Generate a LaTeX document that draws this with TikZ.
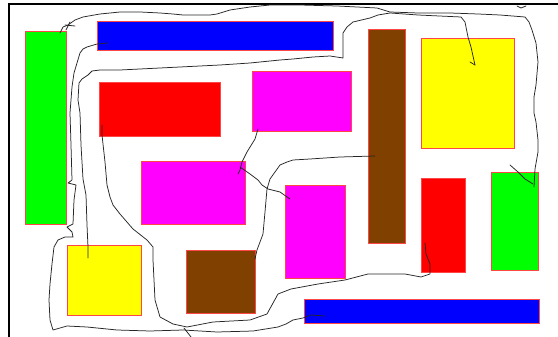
\documentclass[tikz,border=0pt]{standalone}
\begin{document}
\begin{tikzpicture}[x=1pt,y=-1pt,
  box/.style={draw={rgb,255:red,255;green,70;blue,70},line width=0.8pt},
  wire/.style={draw=black!85,line width=0.75pt,line join=round,line cap=round},
  frame/.style={draw=black,line width=2pt}]
\definecolor{cgreen}{RGB}{0,255,0}
\definecolor{cblue}{RGB}{0,0,255}
\definecolor{cred}{RGB}{255,0,0}
\definecolor{cmag}{RGB}{255,0,255}
\definecolor{cyel}{RGB}{255,255,0}
\definecolor{cbrown}{RGB}{128,64,0}
\useasboundingbox (0,0) rectangle (558,337);
\fill[white] (0,0) rectangle (558,337);
% frame
\draw[frame] (9.3,337) -- (9.3,4.3) -- (558,4.3);
% boxes
\filldraw[box,fill=cgreen] (25,31) rectangle (66,224);
\filldraw[box,fill=cblue] (97,21) rectangle (333,50);
\filldraw[box,fill=cred] (99,82) rectangle (220,136);
\filldraw[box,fill=cmag] (252,71) rectangle (351,131);
\filldraw[box,fill=cmag] (141,161) rectangle (245,224);
\filldraw[box,fill=cbrown] (368,29) rectangle (405,243);
\filldraw[box,fill=cyel] (421,38) rectangle (514,148);
\filldraw[box,fill=cmag] (285,185) rectangle (345,278);
\filldraw[box,fill=cred] (421,178) rectangle (465,272);
\filldraw[box,fill=cgreen] (491,172) rectangle (538,270);
\filldraw[box,fill=cyel] (67,245) rectangle (141,315);
\filldraw[box,fill=cbrown] (186,250) rectangle (255,313);
\filldraw[box,fill=cblue] (304,299) rectangle (539,323);
% green - green (top and right side)
\draw[wire] (60,33) -- (63,27) -- (68,25) -- (75,20) -- (83,17) -- (100,14) -- (120,12) -- (140,12)
  -- (160,13) -- (173,14) -- (183,15) -- (210,15) -- (217,14) -- (230,10) -- (250,7) -- (270,5)
  -- (300,5) -- (337,6) -- (377,8) -- (390,12) -- (418,13) -- (450,13) -- (478,14) -- (500,15)
  -- (525,17) -- (529,22) -- (532,30) -- (536,43) -- (538,62) -- (536,85) -- (534,97) -- (534,113)
  -- (536,122) -- (538,140) -- (538,152) -- (535,169) -- (534,187);
\draw[wire] (65,25) -- (75,26);
\draw[wire] (66,30) -- (70,22);
% short stroke into right green
\draw[wire] (510,165) -- (518,172) -- (525,179) -- (533,184);
% tick on top border
\draw[wire] (517,6) -- (521,8) -- (526,6);
% yellow - yellow
\draw[wire] (88,258) -- (88,247) -- (87,225) -- (86,195) -- (83,179) -- (81,145) -- (80,113)
  -- (78,100) -- (79,83) -- (82,79) -- (88,75) -- (92,71) -- (100,70) -- (120,70) -- (140,69)
  -- (160,68) -- (220,65) -- (250,63) -- (280,60) -- (293,59) -- (313,57) -- (330,56) -- (343,58)
  -- (343,33) -- (347,27) -- (353,22) -- (370,18) -- (378,15) -- (390,13) -- (418,15)
  -- (461,17) -- (465,22) -- (468,37) -- (471,47) -- (475,65);
\draw[wire] (470,62) -- (475,65);
% blue - blue
\draw[wire] (108,43) -- (97,44) -- (87,47) -- (83,49) -- (80,53) -- (77,63) -- (74,73) -- (72,87)
  -- (71,100) -- (70,113) -- (71,145) -- (72,180) -- (68,183) -- (76,185) -- (74,200) -- (73,224)
  -- (67,227) -- (72,232) -- (73,237) -- (65,237) -- (58,240) -- (54,247) -- (52,264) -- (50,284)
  -- (49,300) -- (50,320) -- (53,330) -- (67,326) -- (87,327) -- (117,330) -- (150,331) -- (183,330)
  -- (217,332) -- (253,331) -- (278,327) -- (286,324) -- (293,320) -- (303,318) -- (311,315) -- (325,316);
% red - red
\draw[wire] (102,125) -- (102,135) -- (105,162) -- (107,185) -- (110,197) -- (113,205) -- (120,214)
  -- (133,229) -- (147,240) -- (153,247) -- (153,260) -- (155,300) -- (160,317) -- (173,324)
  -- (187,327) -- (213,322) -- (250,320) -- (267,314) -- (278,294) -- (291,289) -- (318,284)
  -- (345,280) -- (368,274) -- (405,274) -- (421,277) -- (430,274) -- (430,264) -- (426,254) -- (425,243);
\draw[wire] (184,328) -- (191,337);
% magenta - magenta
\draw[wire] (258,129) -- (255,139) -- (247,152) -- (242,162) -- (240,170) -- (238,174);
\draw[wire] (240,167) -- (250,174) -- (258,180) -- (262,185) -- (268,189) -- (280,192) -- (290,199);
% brown - brown
\draw[wire] (255,259) -- (257,250) -- (263,234) -- (265,212) -- (267,189) -- (270,179) -- (280,165)
  -- (287,162) -- (293,160) -- (310,159) -- (340,157) -- (375,156);
\end{tikzpicture}
\end{document}
